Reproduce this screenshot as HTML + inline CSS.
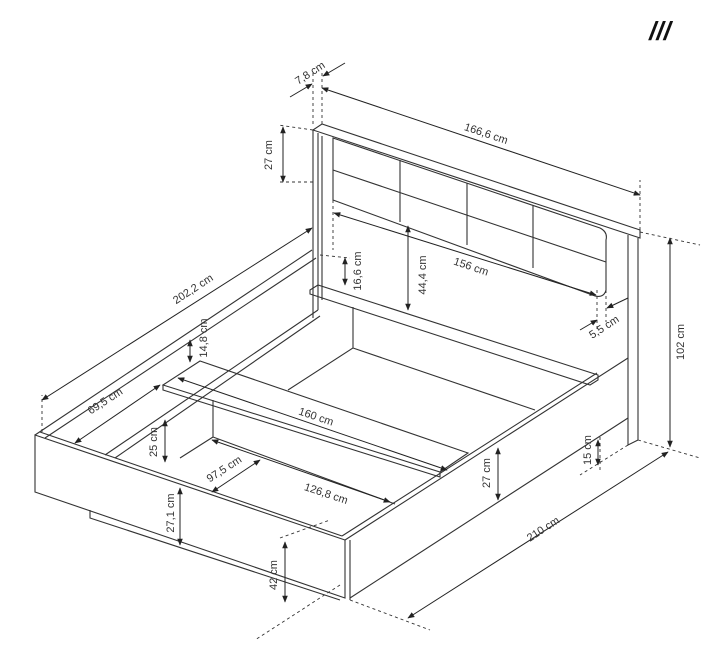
<!DOCTYPE html>
<html><head><style>body{margin:0;background:#fff}svg{display:block}text{font-family:"Liberation Sans",sans-serif;font-size:11px;fill:#333}</style></head><body>
<svg width="712" height="656" viewBox="0 0 712 656" xmlns="http://www.w3.org/2000/svg">
<defs><marker id="a" viewBox="0 0 10 10" refX="9" refY="5" markerWidth="7" markerHeight="7" orient="auto-start-reverse"><path d="M0,1L10,5L0,9z" fill="#222"/></marker></defs>
<g fill="none" stroke="#333" stroke-width="1.1">
<!-- headboard -->
<path d="M313,130 L322,124 L640,230 L640,238 L313,130 Z"/>
<path d="M313,130 L313,318 M318,133 L318,310 M322,136 L322,300"/>
<path d="M628,235 L628,445 L638,440 L638,238"/>
<path d="M333,138 L600,228 Q608,232 606,240 L606,290 Q604,298 595,296 L333,200 Z"/>
<path d="M333,170 L606,262 M400,160 L400,222 M467,183 L467,245 M533,205 L533,268"/>
<!-- shelf -->
<path d="M310,290 L318,285 L598,375 L598,380 L590,385 L310,294 Z"/>
<path d="M353,307 L353,348 L288,390 M353,348 L535,410"/>
<!-- left rail -->
<path d="M35,435 L312,250 M45,438 L316,258 M105,455 L318,310 M115,458 L320,316"/>
<!-- front panel -->
<path d="M35,435 L345,540 L345,598 L35,492 Z M40,432 L342,536 M90,510 L90,518 L340,600"/>
<!-- right side -->
<path d="M345,540 L628,358 M342,536 L597,373 M350,598 L628,418 M350,540 L350,600"/>
<!-- center beam -->
<path d="M163,385 L200,361 L468,453 L440,472 Z M163,385 L163,390 L440,477 L440,472"/>
<!-- lower rail -->
<path d="M213,400 L213,437 L395,504 M213,437 L180,458"/>
</g>
<g fill="none" stroke="#333" stroke-width="0.9" stroke-dasharray="3,3">
<path d="M313,124 L313,70 M322,124 L322,70 M640,230 L640,180 M313,130 L278,125 M313,182 L278,182 M333,200 L333,250 M597,290 L597,330 M606,290 L606,322 M640,232 L700,245 M638,440 L700,458 M42,432 L42,395 M350,600 L430,630 M340,585 L255,640 M280,538 L330,520 M600,437 L600,470 M320,255 L350,258 M628,445 L580,475"/>
</g>
<g fill="none" stroke="#222" stroke-width="1" marker-start="url(#a)" marker-end="url(#a)">
<path d="M322,88 L640,195"/><path d="M283,127 L283,182"/><path d="M334,213 L596,295"/>
<path d="M345,258 L345,285"/><path d="M408,226 L408,310"/><path d="M670,238 L670,447"/>
<path d="M42,400 L312,228"/><path d="M190,340 L190,362"/><path d="M75,443 L160,385"/>
<path d="M178,378 L447,470"/><path d="M165,420 L165,462"/><path d="M212,492 L260,460"/>
<path d="M212,440 L390,502"/><path d="M180,488 L180,545"/><path d="M498,448 L498,500"/>
<path d="M598,440 L598,465"/><path d="M285,542 L285,602"/><path d="M408,618 L668,452"/>
</g>
<g fill="none" stroke="#222" stroke-width="1" marker-end="url(#a)">
<path d="M290,97 L312,84"/><path d="M345,63 L323,76"/><path d="M580,330 L597,320"/><path d="M628,298 L607,308"/>
</g>
<text x="660" y="40" style="font-size:26px;font-weight:bold;font-style:italic;fill:#111" text-anchor="middle">///</text>
<g text-anchor="middle">
<text transform="translate(312,76) rotate(-33)">7,8 cm</text>
<text transform="translate(485,137) rotate(18.5)">166,6 cm</text>
<text transform="translate(272,155) rotate(-90)">27 cm</text>
<text transform="translate(470,270) rotate(18.5)">156 cm</text>
<text transform="translate(361,271) rotate(-90)">16,6 cm</text>
<text transform="translate(426,275) rotate(-90)">44,4 cm</text>
<text transform="translate(606,330) rotate(-33)">5,5 cm</text>
<text transform="translate(684,342) rotate(-90)">102 cm</text>
<text transform="translate(195,292) rotate(-33)">202,2 cm</text>
<text transform="translate(207,338) rotate(-90)">14,8 cm</text>
<text transform="translate(107,404) rotate(-33)">69,5 cm</text>
<text transform="translate(315,420) rotate(18.5)">160 cm</text>
<text transform="translate(157,442) rotate(-90)">25 cm</text>
<text transform="translate(226,472) rotate(-33)">97,5 cm</text>
<text transform="translate(325,497) rotate(18.5)">126,8 cm</text>
<text transform="translate(174,513) rotate(-90)">27,1 cm</text>
<text transform="translate(490,473) rotate(-90)">27 cm</text>
<text transform="translate(591,450) rotate(-90)">15 cm</text>
<text transform="translate(277,575) rotate(-90)">42 cm</text>
<text transform="translate(545,532) rotate(-33)">210 cm</text>
</g>
</svg>
</body></html>
